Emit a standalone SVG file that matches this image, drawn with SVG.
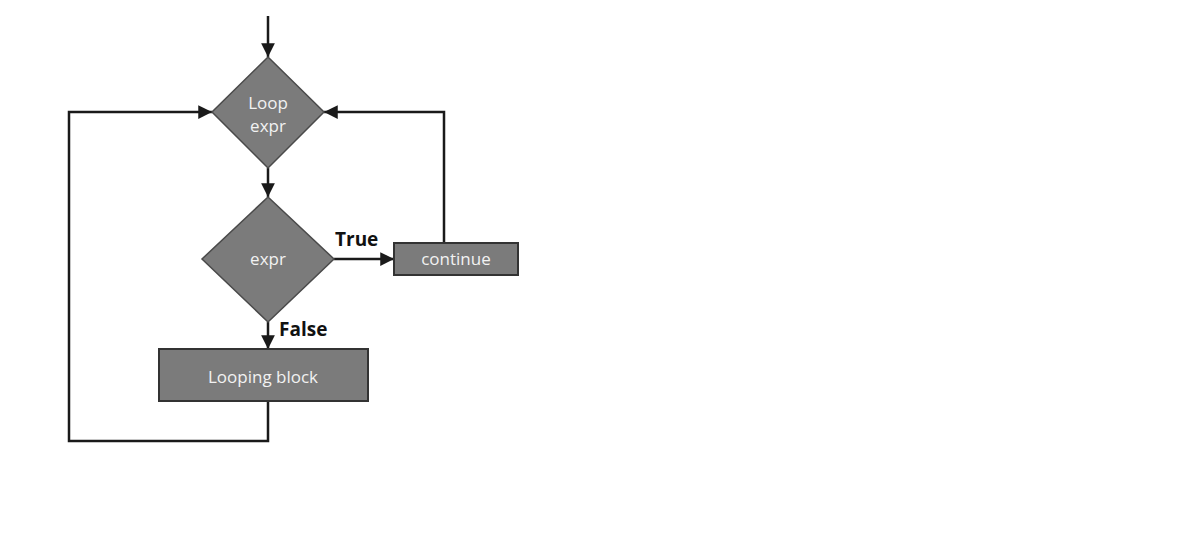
<svg xmlns="http://www.w3.org/2000/svg" width="1198" height="549" viewBox="0 0 1198 549">
<style>
.shape{fill:#7b7b7b;stroke:#4a4a4a;stroke-width:1.5}
.box{fill:#7b7b7b;stroke:#333;stroke-width:2}
.lbl{font-family:"Open Sans","Noto Sans",sans-serif;font-size:17px;fill:#f2f2f2;text-anchor:middle}
.edge{font-family:"Open Sans","Noto Sans",sans-serif;font-size:19px;font-weight:bold;fill:#111}
.ln{fill:none;stroke:#1a1a1a;stroke-width:2.5}
</style>
<defs>
<marker id="ah" viewBox="0 0 10 10" refX="10" refY="5" markerWidth="5.5" markerHeight="5.5" orient="auto" markerUnits="strokeWidth">
<path d="M0,0 L10,5 L0,10 z" fill="#1a1a1a"/>
</marker>
</defs>
<rect width="1198" height="549" fill="#fff"/>
<g id="connectors">
<line class="ln" x1="268" y1="16" x2="268" y2="57" marker-end="url(#ah)"/>
<line class="ln" x1="268" y1="168" x2="268" y2="197" marker-end="url(#ah)"/>
<line class="ln" x1="334" y1="259" x2="394" y2="259" marker-end="url(#ah)"/>
<polyline class="ln" points="444,243 444,112 324,112" marker-end="url(#ah)"/>
<line class="ln" x1="268" y1="322" x2="268" y2="349" marker-end="url(#ah)"/>
<polyline class="ln" points="268,401 268,441 69,441 69,112 212,112" marker-end="url(#ah)"/>
<text class="edge" x="335" y="246">True</text>
<text class="edge" x="279" y="336">False</text>
</g>
<g id="loopexpr">
<polygon class="shape" points="268,57 324,112 268,168 212,112"/>
<text class="lbl" x="268" y="109">Loop</text>
<text class="lbl" x="268" y="132">expr</text>
</g>
<g id="expr">
<polygon class="shape" points="268,197 334,259 268,322 202,259"/>
<text class="lbl" x="268" y="265">expr</text>
</g>
<g id="continue">
<rect class="box" x="394" y="243" width="124" height="32"/>
<text class="lbl" x="456" y="265">continue</text>
</g>
<g id="loopingblock">
<rect class="box" x="159" y="349" width="209" height="52"/>
<text class="lbl" x="263" y="383">Looping block</text>
</g>
</svg>
